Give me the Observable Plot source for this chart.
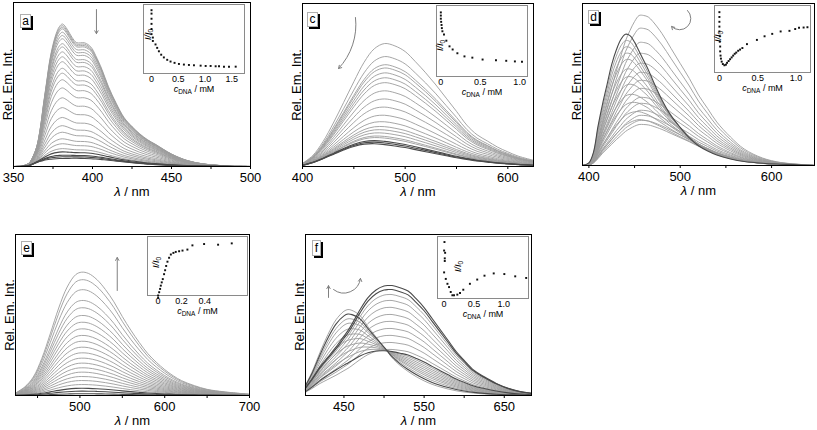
<!DOCTYPE html>
<html><head><meta charset="utf-8">
<script src="https://cdn.jsdelivr.net/npm/d3@7"></script>
<script src="https://cdn.jsdelivr.net/npm/@observablehq/plot@0.6"></script>
<style>
body{margin:0;background:#fff;}
#fig{position:relative;width:817px;height:430px;overflow:hidden;font-family:"Liberation Sans",Arial,Helvetica,sans-serif;}
#fig svg{position:absolute;overflow:visible;}
.tag{position:absolute;box-sizing:border-box;background:#fff;border:1px solid #b0b0b0;box-shadow:2px 2px 0 #000;font-size:12px;line-height:12px;text-align:center;color:#000;}
</style></head>
<body><div id="fig"></div>
<script>
const FONT = '"Liberation Sans", Arial, Helvetica, sans-serif';

// ---------- panel a ----------
const aWl = [350,356,360,363,365,367,369,371,373,375,377,379,381,384,387,390,395,399,402,406,410,415,420,425,430,435,440,450,460,470,480,490,500];
const aShapeA = [0,0.004,0.02,0.07,0.13,0.25,0.42,0.58,0.74,0.85,0.93,0.98,1.0,0.96,0.9,0.86,0.86,0.83,0.77,0.67,0.55,0.43,0.33,0.27,0.22,0.18,0.15,0.085,0.04,0.017,0.007,0.002,0];
const aShapeB = [0,0.02,0.12,0.35,0.5,0.63,0.74,0.82,0.88,0.92,0.95,0.97,0.98,0.99,1.0,1.0,0.98,0.95,0.91,0.84,0.76,0.66,0.55,0.45,0.36,0.29,0.23,0.13,0.07,0.035,0.015,0.005,0];
const aAmpA = [82,81,80,79,77,75,73,70,68,65,62,59,55,52,48,43,37,31,25,20,16,12,9,6,4,2,1,0];
const aAmpB = [5,5,5,5,5,5,5,5,5,5,5,5,5,5,5,5,5,5,5,5,5,5,5,5,5,5,5,5];
const aDark = [24,25,26,27];
const aTicks = [350,375,400,425,450,475,500];
const aTickLabels = [350,400,450,500];
const aArrow = [402.5,95.7,402.5,81];
const aInC = [0,0,0,0,0,0,0.025,0.025,0.075,0.106,0.138,0.181,0.231,0.294,0.356,0.431,0.513,0.606,0.7,0.794,0.919,1.013,1.106,1.2,1.263,1.356,1.45,1.575];
const aInV = [1.0,0.946,0.865,0.784,0.703,0.622,0.568,0.514,0.459,0.405,0.351,0.297,0.254,0.216,0.189,0.168,0.151,0.141,0.135,0.13,0.124,0.119,0.119,0.114,0.114,0.108,0.108,0.108];
const aInTicks = [0,0.5,1.0,1.5];

// ---------- panel c ----------
const cWl = [400,410,420,430,440,450,460,470,480,490,500,510,520,530,540,550,560,570,580,590,600,610,625];
const cShapeA = [0.02,0.07,0.17,0.31,0.47,0.64,0.81,0.94,1.0,0.99,0.95,0.87,0.78,0.68,0.57,0.46,0.34,0.26,0.21,0.16,0.12,0.085,0.05];
const cShapeB = [0.05,0.17,0.34,0.53,0.72,0.88,0.98,1.0,0.96,0.9,0.83,0.74,0.65,0.56,0.47,0.38,0.31,0.24,0.19,0.14,0.11,0.08,0.05];
const cAmpA = [62,54,49,47,44,41,38,33,28,23,18,14,11,9,7,5,4,2,1,0];
const cAmpB = [14,14,14,14,14,14,14,14,14,14,14,14,14,14,14,14,14,14,14,14];
const cDark = [17,18,19];
const cTicks = [400,450,500,550,600];
const cTickLabels = [400,500,600];
const cArrow = [451.6,91.4,435.1,60.1];
const cInC = [0,0,0,0.004,0.009,0.013,0.02,0.04,0.07,0.11,0.15,0.21,0.3,0.4,0.53,0.7,0.83,0.94,1.03];
const cInV = [1.02,0.97,0.92,0.87,0.82,0.77,0.72,0.67,0.57,0.48,0.43,0.37,0.32,0.3,0.27,0.26,0.25,0.24,0.235];
const cInTicks = [0,0.5,1.0];

// ---------- panel d ----------
const dWl = [393,400,405,410,415,420,425,430,435,440,445,450,455,460,465,470,480,490,500,510,520,530,540,555,570,590,610,630,647];
const dShapeA = [0,0.02,0.1,0.3,0.47,0.62,0.77,0.88,0.96,1.0,0.99,0.94,0.87,0.8,0.73,0.65,0.5,0.38,0.29,0.21,0.15,0.11,0.08,0.05,0.03,0.017,0.01,0.005,0];
const dShapeB = [0,0.01,0.06,0.17,0.3,0.41,0.52,0.63,0.73,0.83,0.9,0.96,1.0,1.0,0.99,0.96,0.88,0.78,0.68,0.58,0.47,0.38,0.29,0.19,0.11,0.05,0.02,0.008,0];
const dAmpA = [81,75,69,63,57,49,42,35,27,20,12,5,0,0,0,0,0,0,0,0,0,0,0,0,0,0];
const dAmpB = [0,2.5,5,7.4,9.9,12.3,14.8,17.3,19.1,21,22.8,24,25.3,27.8,30.9,34,38.3,42,47.5,52.5,57.4,63,69.1,75.9,84.6,92.6];
const dDark = [0];
const dTicks = [400,450,500,550,600];
const dTickLabels = [400,500,600];
const dArrow = [508,95.7,490.5,85.8];
const dInC = [0,0,0,0,0,0.005,0.005,0.01,0.01,0.015,0.02,0.03,0.045,0.065,0.085,0.1,0.12,0.14,0.16,0.18,0.2,0.22,0.245,0.27,0.3,0.36,0.49,0.59,0.69,0.8,0.915,0.99,1.04,1.1,1.15];
const dInV = [1.0,0.92,0.84,0.76,0.68,0.6,0.51,0.43,0.35,0.28,0.23,0.18,0.14,0.12,0.13,0.16,0.19,0.22,0.25,0.28,0.31,0.33,0.36,0.38,0.405,0.47,0.54,0.6,0.64,0.68,0.69,0.72,0.74,0.745,0.75];
const dInTicks = [0,0.5,1.0];

// ---------- panel e ----------
const eWl = [424,435,445,455,465,475,485,495,502,510,520,530,540,550,560,570,580,590,600,610,620,635,650,670,700];
const eShape = [0.02,0.07,0.15,0.3,0.5,0.71,0.88,0.98,1.0,0.99,0.94,0.86,0.76,0.64,0.53,0.43,0.34,0.27,0.21,0.16,0.12,0.08,0.05,0.03,0.01];
const eAmp = [76.6,71.9,65.7,59,54.5,49.7,45.5,41.4,37.3,33.7,30,26.5,23.2,20.1,17.2,14.5,11.8,9.3,6.8,4.5,2.7,1.1];
const eDark = [19,20,21];
const eTicks = [450,500,550,600,650,700];
const eTickLabels = [500,600,700];
const eArrow = [544,65.2,544,85.7];
const eInC = [0,0,0.009,0.017,0.023,0.031,0.04,0.051,0.06,0.069,0.08,0.094,0.109,0.131,0.151,0.18,0.209,0.251,0.294,0.394,0.514,0.631];
const eInV = [0.018,0.059,0.118,0.178,0.237,0.296,0.355,0.444,0.515,0.592,0.669,0.74,0.799,0.828,0.846,0.858,0.87,0.888,0.964,0.988,0.976,1.0];
const eInTicks = [0,0.2,0.4];

// ---------- panel f ----------
const fWl = [402,410,420,430,440,450,455,460,470,480,490,500,505,510,520,530,540,550,560,570,580,590,600,612,625,640,655,670,684];
const fShapeA = [0.12,0.27,0.5,0.71,0.88,0.98,1.0,0.99,0.93,0.8,0.68,0.56,0.5,0.44,0.35,0.28,0.22,0.17,0.13,0.1,0.075,0.055,0.04,0.028,0.018,0.01,0.006,0.003,0];
const fShapeB = [0.07,0.15,0.26,0.35,0.44,0.54,0.59,0.65,0.78,0.89,0.96,0.995,1.0,1.0,0.98,0.95,0.88,0.8,0.7,0.6,0.5,0.4,0.32,0.23,0.17,0.11,0.065,0.035,0.02];
const fAmpA = [53.4,49.1,44.7,40.4,35.4,30.4,25.5,20.5,15.5,10.6,5.6,0,0,0,0,0,0,0,0,0,0,0];
const fAmpB = [0,2.5,5,7.5,9.9,12.4,14.9,17.4,19.9,22.4,24.8,28.6,32.9,37.3,41.6,46,50.3,54.7,59,62.7,65.8,68.3];
const fDark = [1,10,20,21];
const fTicks = [450,500,550,600,650];
const fTickLabels = [450,550,650];
const fArrowUp = [430.7,60.9,430.7,68.2];
const fArrowCurve = [437,65.8,470.6,72.7];
const fInC = [0.006,0,0.017,0.011,0.011,0,0.028,0.056,0.083,0.111,0.139,0.167,0.222,0.267,0.322,0.433,0.556,0.678,0.833,1.011,1.194,1.378];
const fInV = [1.0,0.858,0.82,0.727,0.683,0.492,0.383,0.301,0.246,0.164,0.109,0.109,0.12,0.148,0.202,0.301,0.372,0.437,0.475,0.464,0.426,0.399];
const fInTicks = [0,0.5,1.0];

// ---------- layout ----------
const fig = document.getElementById("fig");

function curveRows(wl, A, B, ampA, ampB) {
  const rows = [];
  ampA.forEach((a, k) => {
    const b = ampB ? ampB[k] : 0;
    wl.forEach((w, i) => rows.push({k, wl: w, v: a * A[i] + (B ? b * B[i] : 0)}));
  });
  return rows;
}

function place(svg, left, top) {
  svg.style.position = "absolute";
  svg.style.left = left + "px";
  svg.style.top = top + "px";
  svg.querySelectorAll("text").forEach(t => {
    const s = t.textContent;
    if (s === "λ / nm") t.innerHTML = '<tspan font-style="italic">λ</tspan> / nm';
    else if (s === "cDNA / mM") t.innerHTML = '<tspan font-style="italic">c</tspan><tspan font-size="6.5" dy="2">DNA</tspan><tspan dy="-2"> / mM</tspan>';
    else if (s === "I/I0") t.innerHTML = '<tspan font-style="italic">I/I</tspan><tspan font-size="6.5" dy="2">0</tspan>';
  });
  fig.appendChild(svg);
}

function mainPanel(p) {
  const [l, t, r, b] = p.box;
  const mL = 18, mR = 12, mT = 4, mB = 40;
  const rows = curveRows(p.wl, p.A, p.B, p.ampA, p.ampB);
  const light = rows.filter(d => !p.dark.includes(d.k));
  const dark = rows.filter(d => p.dark.includes(d.k));
  const arrows = p.arrows.map((a, i) => Plot.arrow([a], {
    x1: d => d[0], y1: d => d[1], x2: d => d[2], y2: d => d[3],
    bend: p.bends[i], stroke: "#808080", strokeWidth: 1, headLength: 5
  }));
  const svg = Plot.plot({
    width: r - l + mL + mR, height: b - t + mT + mB,
    marginLeft: mL, marginRight: mR, marginTop: mT, marginBottom: mB,
    style: {background: "transparent", fontFamily: FONT, fontSize: "13px", color: "#000", overflow: "visible"},
    x: {domain: p.xDomain, ticks: p.ticks, tickFormat: d => p.labels.includes(d) ? String(d) : "", tickSize: 3, tickPadding: 3.5, label: null},
    y: {domain: [0, 100], axis: null},
    marks: [
      Plot.line(light, {x: "wl", y: "v", z: "k", stroke: "#9c9c9c", strokeWidth: 0.9, curve: "catmull-rom"}),
      Plot.line(dark, {x: "wl", y: "v", z: "k", stroke: "#4a4a4a", strokeWidth: 1.1, curve: "catmull-rom"}),
      ...arrows,
      Plot.frame({stroke: "#000", strokeWidth: 1}),
      Plot.text(["Rel. Em. Int."], {text: d => d, frameAnchor: "left", rotate: -90, textAnchor: "middle", lineAnchor: "bottom", dx: -2, fontSize: 13}),
      Plot.text(["λ / nm"], {text: d => d, frameAnchor: "bottom", dy: 29.5, fontSize: 13})
    ]
  });
  place(svg, l - mL, t - mT);
}

function insetPanel(p) {
  const [l, t, r, b] = p.box;
  const mL = 2, mR = 2, mT = 2, mB = 26;
  const pts = p.c.map((c, i) => ({c, v: p.v[i]}));
  const svg = Plot.plot({
    width: r - l + mL + mR, height: b - t + mT + mB,
    marginLeft: mL, marginRight: mR, marginTop: mT, marginBottom: mB,
    style: {background: "transparent", fontFamily: FONT, fontSize: "9px", color: "#000", overflow: "visible"},
    x: {domain: p.xDomain, ticks: p.ticks, tickFormat: d => d === 0 ? "0" : d.toFixed(1), tickSize: 0, tickPadding: 2, label: null},
    y: {domain: p.yDomain, axis: null},
    marks: [
      Plot.frame({fill: "white", stroke: "#8a8a8a", strokeWidth: 1}),
      Plot.dot(pts, {x: "c", y: "v", r: 1.1, fill: "#111", symbol: "square"}),
      Plot.text(["I/I0"], {text: d => d, frameAnchor: "top-left", dx: p.lab[0], dy: p.lab[1], rotate: -90, textAnchor: "middle", lineAnchor: "middle", fontSize: 9}),
      Plot.text(["cDNA / mM"], {text: d => d, frameAnchor: "bottom", dy: 18.5, fontSize: 9})
    ]
  });
  place(svg, l - mL, t - mT);
}

mainPanel({box: [13, 2, 250, 166], xDomain: [350, 500], wl: aWl, A: aShapeA, B: aShapeB, ampA: aAmpA, ampB: aAmpB, dark: aDark, ticks: aTicks, labels: aTickLabels, arrows: [aArrow], bends: [0]});
mainPanel({box: [302, 3, 533, 166], xDomain: [400, 625], wl: cWl, A: cShapeA, B: cShapeB, ampA: cAmpA, ampB: cAmpB, dark: cDark, ticks: cTicks, labels: cTickLabels, arrows: [cArrow], bends: [25]});
mainPanel({box: [582, 3, 814, 165], xDomain: [393, 647], wl: dWl, A: dShapeA, B: dShapeB, ampA: dAmpA, ampB: dAmpB, dark: dDark, ticks: dTicks, labels: dTickLabels, arrows: [dArrow], bends: [90]});
mainPanel({box: [15, 234, 249, 395], xDomain: [424, 700], wl: eWl, A: eShape, B: null, ampA: eAmp, ampB: null, dark: eDark, ticks: eTicks, labels: eTickLabels, arrows: [eArrow], bends: [0]});
mainPanel({box: [305, 234, 531, 395], xDomain: [402, 684], wl: fWl, A: fShapeA, B: fShapeB, ampA: fAmpA, ampB: fAmpB, dark: fDark, ticks: fTicks, labels: fTickLabels, arrows: [fArrowUp, fArrowCurve], bends: [0, -60]});

insetPanel({box: [143, 4, 244, 73], xDomain: [-0.15, 1.74], yDomain: [0, 1.09], c: aInC, v: aInV, ticks: aInTicks, lab: [5, 30]});
insetPanel({box: [436, 5, 527, 76], xDomain: [-0.055, 1.1], yDomain: [0, 1.13], c: cInC, v: cInV, ticks: cInTicks, lab: [4, 40]});
insetPanel({box: [714, 5, 810, 72], xDomain: [-0.064, 1.19], yDomain: [0, 1.11], c: dInC, v: dInV, ticks: dInTicks, lab: [4, 31]});
insetPanel({box: [147, 236, 247, 295], xDomain: [-0.091, 0.766], yDomain: [0.059, 1.124], c: eInC, v: eInV, ticks: eInTicks, lab: [9, 26]});
insetPanel({box: [437, 236, 528, 298], xDomain: [-0.111, 1.417], yDomain: [0.055, 1.093], c: fInC, v: fInV, ticks: fInTicks, lab: [21, 30]});

// panel letters
[["a", 20, 14, 11, 14], ["c", 307, 12, 11, 15], ["d", 588, 10, 11, 14], ["e", 21, 241, 11, 14], ["f", 312, 240, 9, 16]].forEach(([s, x, y, w, h]) => {
  const el = document.createElement("div");
  el.className = "tag";
  el.textContent = s;
  el.style.left = x + "px"; el.style.top = y + "px";
  el.style.width = w + "px"; el.style.height = h + "px";
  el.style.lineHeight = (h - 2) + "px";
  fig.appendChild(el);
});
</script>
</body></html>
